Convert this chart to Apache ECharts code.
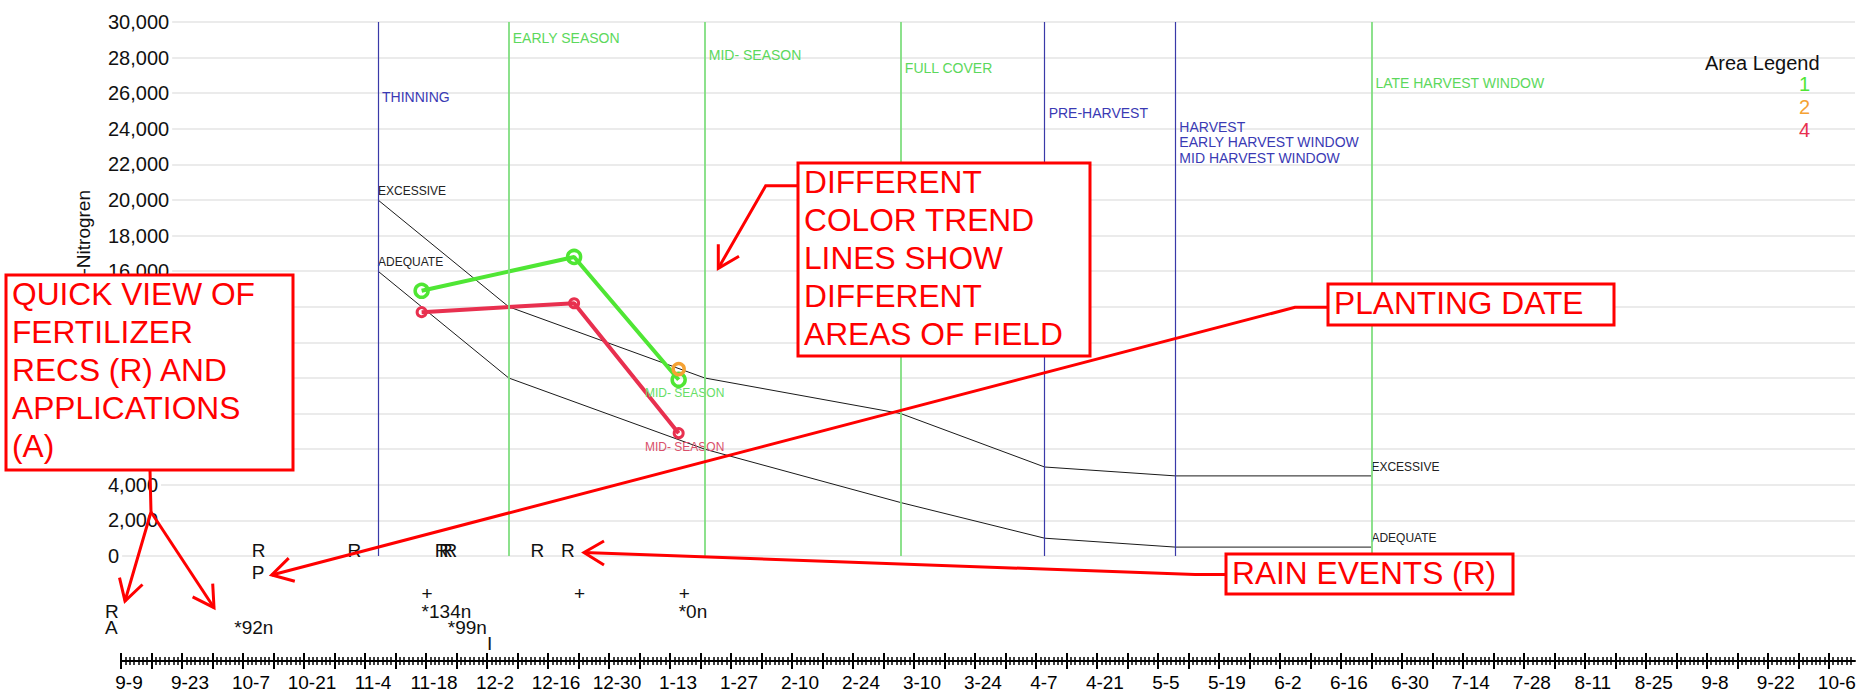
<!DOCTYPE html>
<html>
<head>
<meta charset="utf-8">
<script src="https://cdn.jsdelivr.net/npm/echarts@6/dist/echarts.min.js"></script>
<style>
html, body { margin: 0; padding: 0; background: #fff; }
#main { width: 1869px; height: 696px; }
</style>
</head>
<body>
<div id="main"></div>
<script>
var chart = echarts.init(document.getElementById('main'), null, {renderer: 'svg'});

// axis range, days counted from 2014-09-09
var startDate = '2014-09-09';
var endDay = 398;
var tickStep = 7;
var labelStep = 14;
var lastTick = 392;
var yMax = 30000;
var yStep = 2000;

// crop stages (vertical lines)
var stageNames = ['THINNING', 'EARLY SEASON', 'MID- SEASON', 'FULL COVER', 'PRE-HARVEST',
    'HARVEST\nEARLY HARVEST WINDOW\nMID HARVEST WINDOW', 'LATE HARVEST WINDOW'];
var stageDates = ['2014-11-07', '2014-12-07', '2015-01-21', '2015-03-07', '2015-04-09', '2015-05-09', '2015-06-23'];
var stageKinds = ['crop', 'season', 'season', 'season', 'crop', 'crop', 'season'];

// reference bands at each stage
var excessive = [20000, 14000, 10000, 8000, 5000, 4500, 4500];
var adequate = [16000, 10000, 6000, 3000, 1000, 500, 500];

// samples per area of field
var sampleDates = ['2014-11-17', '2014-12-22', '2015-01-15'];
var area1 = [14900, 16800, 9900];
var area2 = [null, null, 10500];
var area4 = [13700, 14200, 6900];
var sampleStage = ['', '', 'MID- SEASON'];

// events under the chart
var rainDates = ['2014-10-09', '2014-10-31', '2014-11-20', '2014-11-21', '2014-11-22', '2014-12-12', '2014-12-19'];
var plantingDate = '2014-10-09';
var recDates = ['2014-11-17', '2015-01-15'];
var recText = ['*134n', '*0n'];
var appDates = ['2014-10-05', '2014-11-23'];
var appText = ['*92n', '*99n'];
var markDates = ['2014-12-02'];
var markText = ['I'];

var FONT = '"Liberation Sans", Arial, sans-serif';
var GREEN = '#4fe634', ORANGE = '#f5a233', RED = '#e8304f';
var STAGE_GREEN = '#80de80', STAGE_BLUE = '#3a3aa8';
var GRID = {left: 121, right: 14, top: 22, bottom: 140};
var H = 696;

// red call-out notes
var notes = [
    {x: 6, y: 275, w: 287, h: 195, text: 'QUICK VIEW OF\nFERTILIZER\nRECS (R) AND\nAPPLICATIONS\n(A)'},
    {x: 798, y: 163, w: 292, h: 193, text: 'DIFFERENT\nCOLOR TREND\nLINES SHOW\nDIFFERENT\nAREAS OF FIELD'},
    {x: 1328, y: 284, w: 286, h: 41, text: 'PLANTING DATE'},
    {x: 1226, y: 554, w: 287, h: 40, text: 'RAIN EVENTS (R)'}
];
var arrows = [
    [[150, 470], [151, 512], [125, 601]],
    [[142.5, 584.5], [125, 601], [119.5, 577.6]],
    [[151, 512], [214, 607.7]],
    [[212.7, 583.7], [214, 607.7], [192.6, 596.8]],
    [[798, 185.7], [765.7, 185.7], [718.3, 268.3]],
    [[718.3, 244.3], [718.3, 268.3], [739, 256.3]],
    [[1328, 307.3], [1295, 307.3], [271.7, 575]],
    [[288.7, 558.1], [271.7, 575], [294.8, 581.3]],
    [[1226, 574.5], [1195, 574.5], [584, 552.5]],
    [[604, 541], [584, 552.5], [604, 565]]
];

var t0 = Date.UTC(2014, 8, 9);
function dayOf(s) {
    var p = s.split('-');
    return Math.round((Date.UTC(+p[0], +p[1] - 1, +p[2]) - t0) / 86400000);
}
function mdOf(day) {
    var d = new Date(t0 + day * 86400000);
    return (d.getUTCMonth() + 1) + '-' + d.getUTCDate();
}

var stageDays = stageDates.map(dayOf);
var sampleDays = sampleDates.map(dayOf);
var tickDays = [], labelDays = [];
for (var v = 0; v <= lastTick; v += tickStep) tickDays.push(v);
for (var v = 0; v <= lastTick; v += labelStep) labelDays.push(v);

// y labels that sit under the first note are not drawn
function yLabel(val) {
    var y = GRID.top + (1 - val / yMax) * (H - GRID.top - GRID.bottom);
    var n = notes[0];
    if (y - 14 >= n.y && y <= n.y + n.h) return '';
    return val.toLocaleString('en-US');
}

function bandSeries(name, vals) {
    return {
        name: name,
        type: 'line',
        silent: true,
        z: 2,
        symbol: 'circle',
        symbolSize: 0,
        lineStyle: {color: '#1a1a1a', width: 1},
        itemStyle: {color: '#1a1a1a'},
        label: {position: 'top', align: 'left', distance: 3, fontSize: 12, color: '#222', formatter: name},
        data: stageDays.map(function (d, i) {
            return {value: [d, vals[i]], label: {show: i === 0 || i === stageDays.length - 1}};
        })
    };
}

function areaSeries(name, vals, color, size, border, labelColor, labelOffset) {
    var data = [];
    sampleDays.forEach(function (d, i) {
        if (vals[i] == null) return;
        data.push({value: [d, vals[i]], label: {show: !!labelColor && sampleStage[i] !== '', formatter: sampleStage[i]}});
    });
    return {
        name: name,
        type: 'line',
        z: 4,
        symbol: 'circle',
        symbolSize: size,
        lineStyle: {color: color, width: 4},
        itemStyle: {color: 'rgba(255,255,255,0)', borderColor: color, borderWidth: border},
        label: {position: 'bottom', distance: 1, offset: labelOffset, fontSize: 12, color: labelColor || color},
        data: data
    };
}

var ex = bandSeries('EXCESSIVE', excessive);
ex.markLine = {
    silent: true,
    symbol: ['none', 'none'],
    label: {show: false},
    data: stageDays.map(function (d, i) {
        var blue = stageKinds[i] === 'crop';
        return {xAxis: d, lineStyle: {type: 'solid', color: blue ? STAGE_BLUE : STAGE_GREEN, width: blue ? 1.2 : 1.8}};
    })
};

var xCommon = {
    type: 'value', min: 0, max: endDay, interval: tickStep,
    position: 'bottom', offset: 105, splitLine: {show: false}
};

option = {
    animation: false,
    backgroundColor: '#fff',
    textStyle: {fontFamily: FONT},
    title: {
        text: 'Area Legend', left: 1705, top: 53, padding: 0,
        textStyle: {fontSize: 20, fontWeight: 'normal', color: '#111', lineHeight: 20}
    },
    legend: {
        orient: 'vertical', left: 1793, top: 74, padding: 0, itemGap: 3,
        icon: 'rect', itemWidth: 0, itemHeight: 0, itemStyle: {opacity: 0},
        selectedMode: false,
        textStyle: {fontSize: 20, lineHeight: 20},
        data: [
            {name: '1', textStyle: {color: GREEN}},
            {name: '2', textStyle: {color: ORANGE}},
            {name: '4', textStyle: {color: RED}}
        ]
    },
    grid: GRID,
    xAxis: [
        Object.assign({}, xCommon, {
            axisLine: {onZero: false, lineStyle: {color: '#000', width: 2}},
            axisTick: {length: 8, customValues: tickDays, lineStyle: {color: '#000', width: 2}},
            minorTick: {show: true, splitNumber: 7, length: 4, lineStyle: {color: '#000', width: 1.5}},
            axisLabel: {
                customValues: labelDays, margin: 12, fontSize: 19, color: '#000',
                padding: [0, 0, 0, 16], formatter: function (val) { return mdOf(val); }
            }
        }),
        Object.assign({}, xCommon, {
            axisLine: {show: false, onZero: false},
            axisTick: {inside: true, length: 8, customValues: tickDays, lineStyle: {color: '#000', width: 2}},
            minorTick: {show: true, splitNumber: 7, length: 4, lineStyle: {color: '#000', width: 1.5}},
            axisLabel: {show: false}
        })
    ],
    yAxis: [
        {
            type: 'value', min: 0, max: yMax, interval: yStep, position: 'left',
            axisLine: {show: false, onZero: false}, axisTick: {show: false}, axisLabel: {show: false},
            splitLine: {lineStyle: {color: '#e4e4e4', width: 1.5}}
        },
        {
            type: 'value', min: 0, max: yMax, interval: yStep, position: 'left', z: 3,
            axisLine: {show: false, onZero: false}, axisTick: {show: false}, splitLine: {show: false},
            axisLabel: {
                margin: 13, align: 'left', fontSize: 20, color: '#111', lineHeight: 20,
                backgroundColor: '#fff', padding: [0, 3, 14, 0],
                formatter: yLabel
            }
        }
    ],
    series: [
        ex,
        bandSeries('ADEQUATE', adequate),
        areaSeries('1', area1, GREEN, 13, 3.5, '#66de66', [6, -2]),
        areaSeries('2', area2, ORANGE, 11, 3.5, null, [6, 0]),
        areaSeries('4', area4, RED, 9, 3, '#d9506a', [6, 1])
    ]
};
chart.setOption(option);

// texts placed with the chart's own x scale
function px(day) { return chart.convertToPixel({xAxisIndex: 0}, day); }

var stageLabelTop = [89, 30, 47, 60, 105, 119, 75];
var rowY = {rain: 550, plant: 572, sample: 593, rec: 611, app: 627, mark: 643};

var g = [];
function txt(x, y, text, color, size, extra) {
    var el = {
        type: 'text', x: x, y: y, z: 50,
        style: {text: text, fill: color, fontSize: size, fontFamily: FONT, align: 'left', verticalAlign: 'middle'}
    };
    if (extra) Object.assign(el.style, extra);
    g.push(el);
}

stageDays.forEach(function (d, i) {
    txt(px(d) + 4, stageLabelTop[i], stageNames[i], stageKinds[i] === 'crop' ? '#3a3ab4' : '#5cd85c', 14,
        {verticalAlign: 'top', lineHeight: 15.5});
});

rainDates.forEach(function (s) { txt(px(dayOf(s)), rowY.rain, 'R', '#111', 19); });
txt(px(dayOf(plantingDate)), rowY.plant, 'P', '#111', 19);
sampleDays.forEach(function (d) { txt(px(d), rowY.sample, '+', '#111', 19); });
recDates.forEach(function (s, i) { txt(px(dayOf(s)), rowY.rec, recText[i], '#111', 19); });
appDates.forEach(function (s, i) { txt(px(dayOf(s)), rowY.app, appText[i], '#111', 19); });
markDates.forEach(function (s, i) { txt(px(dayOf(s)), rowY.mark, markText[i], '#111', 19); });
txt(105, rowY.rec, 'R', '#111', 19);
txt(105, rowY.app, 'A', '#111', 19);

// y axis title (its start is under the first note)
g.push({
    type: 'text', x: 83, y: 190, rotation: Math.PI / 2, z: 5,
    style: {text: '-Nitrogren', fill: '#111', fontSize: 19, fontFamily: FONT, align: 'right', verticalAlign: 'middle'}
});

notes.forEach(function (n) {
    g.push({
        type: 'rect', z: 60,
        shape: {x: n.x, y: n.y, width: n.w, height: n.h},
        style: {fill: '#fff', stroke: '#ff0000', lineWidth: 3}
    });
    g.push({
        type: 'text', z: 61, x: n.x + 6, y: n.y,
        style: {text: n.text, fill: '#ff0000', fontSize: 31.7, lineHeight: 38, fontFamily: FONT, align: 'left', verticalAlign: 'top'}
    });
});
arrows.forEach(function (pts) {
    g.push({
        type: 'polyline', z: 62,
        shape: {points: pts},
        style: {stroke: '#ff0000', lineWidth: 3, fill: null, lineJoin: 'miter'}
    });
});

chart.setOption({graphic: g});
</script>
</body>
</html>
